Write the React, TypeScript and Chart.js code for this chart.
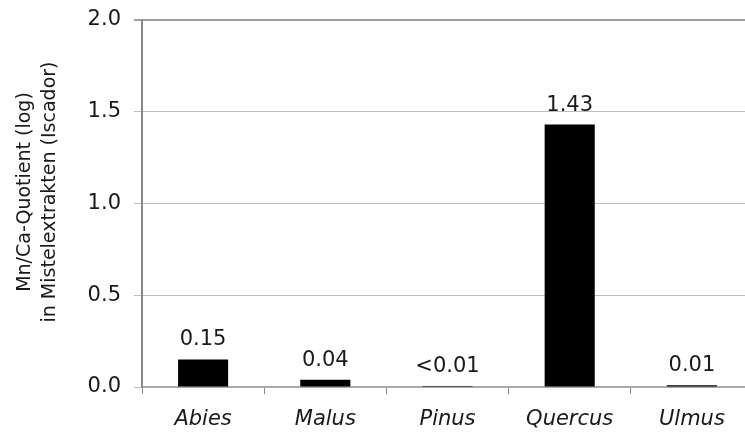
import React, { useEffect, useRef } from "react";
import { Chart, registerables } from "chart.js";

Chart.register(...registerables);

const categories = ["Abies", "Malus", "Pinus", "Quercus", "Ulmus"];
const values = [0.15, 0.04, 0.005, 1.43, 0.01];
const valueLabels = ["0.15", "0.04", "<0.01", "1.43", "0.01"];
const titleLines = ["Mn/Ca-Quotient (log)", "in Mistelextrakten (Iscador)"];

const FONT = "'DejaVu Sans', Verdana, sans-serif";
const TEXT = "#1a1a1a";

const labelPlugin = {
  id: "valueLabels",
  afterDatasetsDraw(chart: any) {
    const ctx = chart.ctx;
    const meta = chart.getDatasetMeta(0);
    ctx.save();
    ctx.font = `21px ${FONT}`;
    ctx.fillStyle = TEXT;
    ctx.textAlign = "center";
    ctx.textBaseline = "alphabetic";
    meta.data.forEach((bar: any, i: number) => {
      ctx.fillText(valueLabels[i], bar.x, bar.y - 14);
    });
    ctx.restore();
  },
};

const yTitlePlugin = {
  id: "yTitle",
  afterDraw(chart: any) {
    const ctx = chart.ctx;
    ctx.save();
    ctx.font = `19px ${FONT}`;
    ctx.fillStyle = TEXT;
    ctx.textAlign = "center";
    ctx.textBaseline = "middle";
    const cy = 192;
    const xs = [25, 50];
    titleLines.forEach((t, i) => {
      ctx.save();
      ctx.translate(xs[i], cy);
      ctx.rotate(-Math.PI / 2);
      ctx.fillText(t, 0, 0);
      ctx.restore();
    });
    ctx.restore();
  },
};

export default function App() {
  const ref = useRef<HTMLCanvasElement | null>(null);
  useEffect(() => {
    document.body.style.margin = "0";
    document.body.style.overflow = "hidden";
    const chart = new Chart(ref.current!, {
      type: "bar",
      data: {
        labels: categories,
        datasets: [
          {
            data: values,
            backgroundColor: "#000000",
            borderWidth: 0,
            barPercentage: 0.41,
            categoryPercentage: 1,
          },
        ],
      },
      options: {
        responsive: false,
        animation: false,
        devicePixelRatio: 1,
        layout: { padding: { left: 0, top: 20, right: 2, bottom: 0 } },
        plugins: { legend: { display: false }, tooltip: { enabled: false } },
        scales: {
          x: {
            afterFit(scale: any) {
              scale.height = 49;
              scale.paddingLeft = 0;
              scale.paddingRight = 0;
            },
            grid: {
              offset: true,
              drawOnChartArea: false,
              drawTicks: true,
              tickLength: 7,
              color: "#888888",
            },
            border: { color: "#aaaaaa", width: 2 },
            ticks: {
              color: TEXT,
              padding: 13,
              font: { family: FONT, size: 21, style: "italic" },
            },
          },
          y: {
            min: 0,
            max: 2,
            afterFit(scale: any) {
              scale.width = 142;
              scale.paddingTop = 0;
              scale.paddingBottom = 0;
            },
            ticks: {
              stepSize: 0.5,
              color: TEXT,
              padding: 13,
              font: { family: FONT, size: 21 },
              callback: (v: any) => Number(v).toFixed(1),
            },
            grid: {
              color: (c: any) => (c.tick && c.tick.value === 2 ? "#a0a0a0" : "#bdbdbd"),
              lineWidth: (c: any) => (c.tick && c.tick.value === 2 ? 2 : 1),
              tickLength: 8,
            },
            border: { color: "#888888", width: 2 },
          },
        },
      },
      plugins: [labelPlugin, yTitlePlugin],
    });
    return () => chart.destroy();
  }, []);
  return (
    <div style={{ position: "fixed", left: 0, top: 0, width: 745, height: 436, overflow: "hidden", background: "#fff" }}>
      <canvas ref={ref} width={755} height={436} />
    </div>
  );
}
